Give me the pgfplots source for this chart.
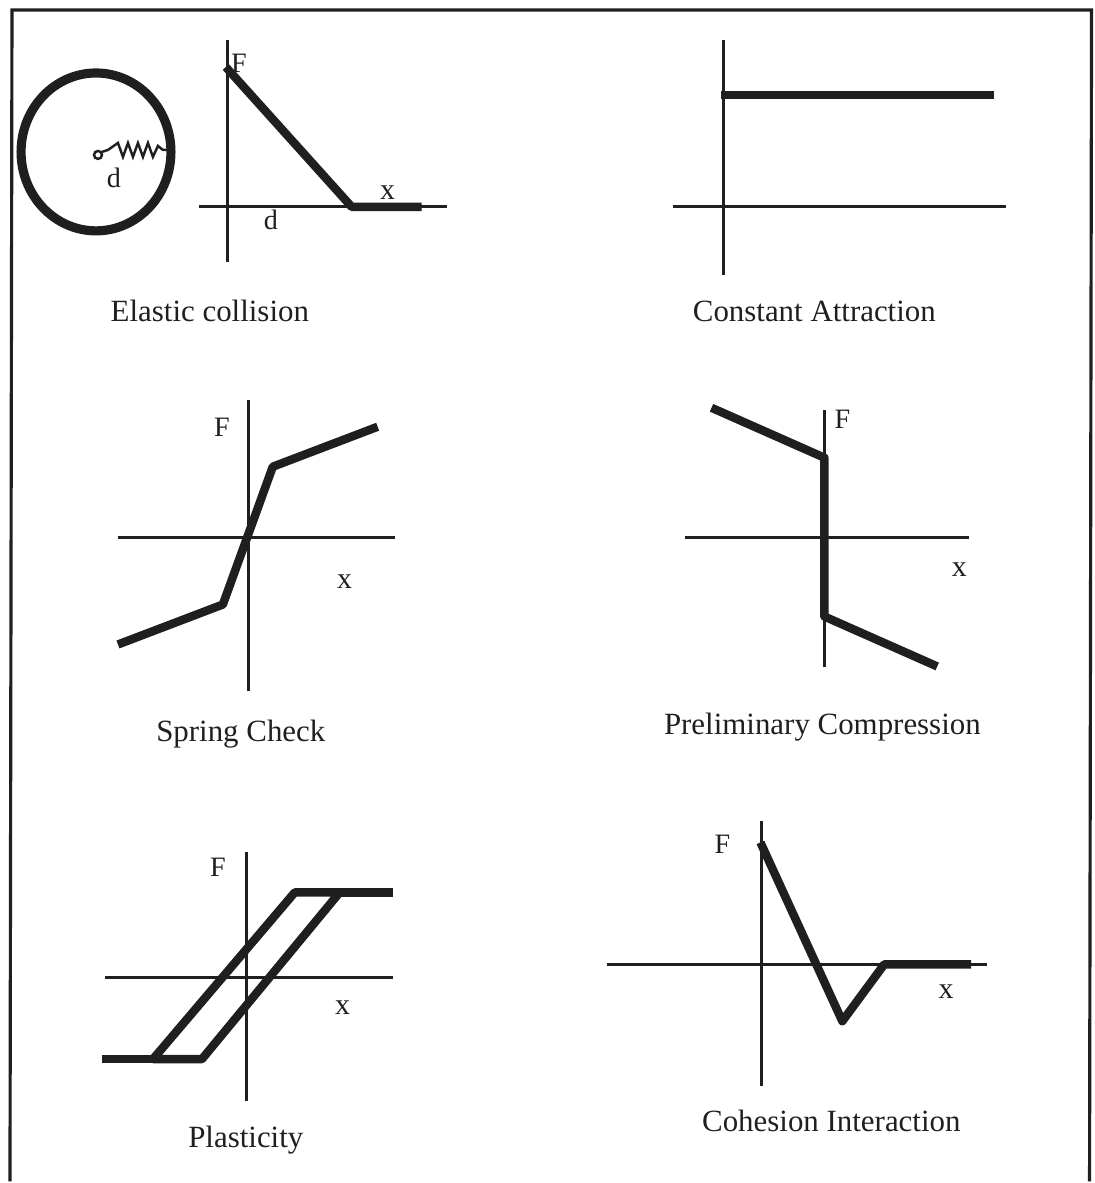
\documentclass[border=0pt]{standalone}
\usepackage{fontspec}
\setmainfont{Liberation Serif}
\usepackage{pgfplots}
\pgfplotsset{compat=1.18}
\definecolor{ink}{HTML}{1F1F1F}

% every panel: 1 unit = 1 px of the scan, origin where the F and x lines cross
\pgfplotsset{
  panel/.style={hide axis, clip=false, no markers, x=0.01cm, y=0.01cm, anchor=origin},
}
\tikzset{
  axisline/.style={line width=0.85pt, color=ink},
  curve/.style={line width=2.4pt, color=ink, line join=round},
  lbl/.style={inner sep=0pt, text=ink},
  captxt/.style={inner sep=0pt, anchor=base, text=ink, font=\fontsize{8.8}{10}\selectfont},
}
\newcommand{\Fl}{\fontsize{8}{9}\selectfont F}
\newcommand{\xl}{\fontsize{8.5}{9}\selectfont x}

\begin{document}
\begin{tikzpicture}

% outer frame of the figure (scan pixels, y downwards as negative)
\begin{axis}[hide axis, clip=false, no markers, x=0.01cm, y=0.01cm,
  xmin=0, xmax=1096, ymin=-1183, ymax=0, anchor=origin, at={(0,0)}]
\addplot[draw=none] coordinates {(0,0) (1096,-1183)};
\addplot[line width=0.9pt, color=ink] coordinates {(10,-1183) (12,-10) (1093,-10) (1091,-1183)};
\end{axis}

% Elastic collision
\begin{axis}[panel, at={(2.28cm,-2.07cm)}]
\addplot[axisline] coordinates {(0,167) (0,-55)};
\addplot[axisline] coordinates {(-29,0) (219,0)};
\addplot[curve] coordinates {(-2,140) (124,0) (194,0)};
\draw[line width=2.6pt, color=ink] (axis cs:-132,55) ellipse [x radius=0.75cm, y radius=0.79cm];
\draw[line width=0.7pt, color=ink] (axis cs:-130,52) circle [radius=0.04cm];
\addplot[line width=0.7pt, color=ink] coordinates {
  (-126,55) (-120,57) (-110,64) (-105,50) (-100,64) (-95,50) (-90,64)
  (-85,50) (-80,64) (-75,50) (-70,61) (-65,57) (-56,57)};
\node[lbl] at (axis cs:11,144) {\Fl};
\node[lbl] at (axis cs:160,14) {\xl};
\node[lbl, font=\fontsize{8}{9}\selectfont] at (axis cs:43,-13) {d};
\node[lbl, font=\fontsize{8}{9}\selectfont] at (axis cs:-114,29) {d};
\node[captxt] at (axis cs:-18,-115) {Elastic collision};
\end{axis}

% Constant Attraction
\begin{axis}[panel, at={(7.24cm,-2.07cm)}]
\addplot[axisline] coordinates {(0,167) (0,-68)};
\addplot[axisline] coordinates {(-51,0) (283,0)};
\addplot[curve, line width=2pt] coordinates {(-2,112) (271,112)};
\node[captxt] at (axis cs:91,-115) {Constant Attraction};
\end{axis}

% Spring Check
\begin{axis}[panel, at={(2.49cm,-5.38cm)}]
\addplot[axisline] coordinates {(0,138) (0,-154)};
\addplot[axisline] coordinates {(-131,0) (146,0)};
\addplot[curve] coordinates {(-131,-107) (-26,-67) (24,71) (129,111)};
\node[lbl] at (axis cs:-27,110) {\Fl};
\node[lbl] at (axis cs:96,-44) {\xl};
\node[captxt] at (axis cs:-8,-204) {Spring Check};
\end{axis}

% Preliminary Compression
\begin{axis}[panel, at={(8.25cm,-5.38cm)}]
\addplot[axisline] coordinates {(0,128) (0,-130)};
\addplot[axisline] coordinates {(-140,0) (145,0)};
\addplot[curve] coordinates {(-113,130) (0,80) (0,-79) (113,-129)};
\node[lbl] at (axis cs:18,118) {\Fl};
\node[lbl] at (axis cs:135,-32) {\xl};
\node[captxt] at (axis cs:-2,-197) {Preliminary Compression};
\end{axis}

% Plasticity
\begin{axis}[panel, at={(2.47cm,-9.78cm)}]
\addplot[axisline] coordinates {(0,125) (0,-124)};
\addplot[axisline] coordinates {(-142,0) (146,0)};
\addplot[curve] coordinates {(-145,-82) (-94,-82)};
\addplot[curve] coordinates {(93,85) (146,85)};
\addplot[curve] coordinates {(-94,-82) (-45,-82) (93,85) (48,85) (-94,-82)};
\node[lbl] at (axis cs:-29,110) {\Fl};
\node[lbl] at (axis cs:96,-30) {\xl};
\node[captxt] at (axis cs:-1,-170) {Plasticity};
\end{axis}

% Cohesion Interaction
\begin{axis}[panel, at={(7.62cm,-9.65cm)}]
\addplot[axisline] coordinates {(0,143) (0,-122)};
\addplot[axisline] coordinates {(-155,0) (226,0)};
\addplot[curve] coordinates {(-1,122) (81,-57) (123,0) (210,0)};
\node[lbl] at (axis cs:-39,120) {\Fl};
\node[lbl] at (axis cs:185,-27) {\xl};
\node[captxt] at (axis cs:70,-167) {Cohesion Interaction};
\end{axis}

\end{tikzpicture}
\end{document}
